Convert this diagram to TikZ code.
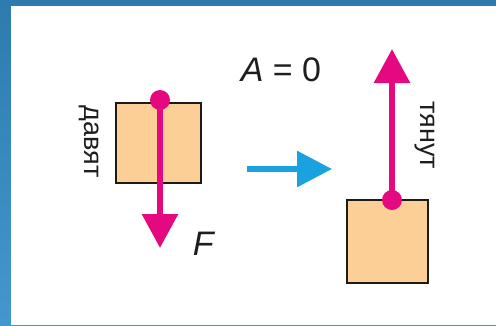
\documentclass[tikz,border=0pt]{standalone}
\usepackage{fontspec}
\setmainfont{Liberation Sans}
\usetikzlibrary{arrows.meta}
\definecolor{frameTop}{HTML}{2E7BAD}
\definecolor{frameBot}{HTML}{4298CE}
\definecolor{magentaF}{HTML}{E4097F}
\definecolor{peach}{HTML}{FCCF97}
\definecolor{edgeC}{HTML}{1E1A16}
\definecolor{cyanA}{HTML}{19A2DE}
\definecolor{txt}{HTML}{1E1E1E}
\begin{document}
\begin{tikzpicture}[x=1pt,y=-1pt,
  blockbox/.style={draw=edgeC,fill=peach,line width=2.2pt,inner sep=0pt},
  forcearrow/.style={draw=magentaF,line width=6pt,-{Triangle[length=34pt,width=35pt]}},
  moveline/.style={draw=cyanA,line width=6pt,-{Triangle[length=35pt,width=35pt]}},
  forcedot/.style={circle,fill=magentaF,inner sep=0pt,minimum size=20pt},
  rottext/.style={rotate=-90,font=\fontsize{27}{27}\selectfont,text=txt,inner sep=0pt},
  bigtext/.style={font=\fontsize{34}{34}\selectfont,text=txt,inner sep=0pt}]
\useasboundingbox (0,0) rectangle (496,325);
\shade[top color=frameTop,bottom color=frameBot] (0,0) rectangle (496,325);
\fill[white] (11,6) rectangle (496,325);
% left block
\node[blockbox,minimum width=85pt,minimum height=80pt] (box1) at (158.5,143) {};
\coordinate (d1) at (160,100);
\coordinate (t1) at (160,248);
\draw[forcearrow] (d1) -- (t1);
\node[forcedot] (dot1) at (d1) {};
\node[rottext] (press) at (89,141.5) {давят};
\node[bigtext] (force) at (204,244) {\textit{F}};
% move arrow
\coordinate (m1) at (247,169);
\coordinate (m2) at (332,169);
\draw[moveline] (m1) -- (m2);
\node[bigtext] (work) at (281,70) {\textit{A} = 0};
% right block
\node[blockbox,minimum width=81pt,minimum height=83pt] (box2) at (387.5,241.5) {};
\coordinate (d2) at (392,200);
\coordinate (t2) at (392,49);
\draw[forcearrow] (d2) -- (t2);
\node[forcedot] (dot2) at (d2) {};
\node[rottext] (pull) at (425,135) {тянут};
\end{tikzpicture}
\end{document}
